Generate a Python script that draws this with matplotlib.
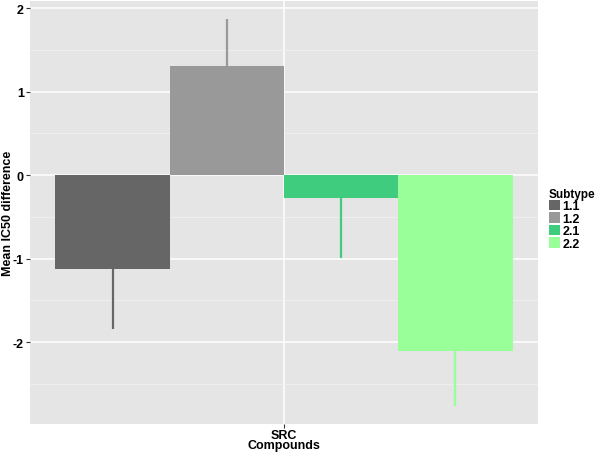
import numpy as np
import matplotlib
matplotlib.use("Agg")
import matplotlib.pyplot as plt
from matplotlib.patches import Patch

plt.rcParams['font.family'] = ['Liberation Sans', 'DejaVu Sans']
plt.rcParams['font.weight'] = 'bold'

# data
subtypes = ["1.1", "1.2", "2.1", "2.2"]
means = [-1.125, 1.30, -0.28, -2.11]
errors = [0.715, 0.57, 0.71, 0.65]
colors = ["#666666", "#999999", "#40CC7F", "#99FF99"]
compound = "SRC"

fig = plt.figure(figsize=(6, 4.56), dpi=100)
ax = fig.add_axes([30 / 600, 31 / 456, 508 / 600, 423 / 456])
ax.set_facecolor("#E5E5E5")

width = 0.9 / len(subtypes)
xs = 1 - 0.45 + width / 2 + width * np.arange(len(subtypes))

# error bars only shown on the side away from zero
for x, m, e, c in zip(xs, means, errors, colors):
    ax.vlines(x, m, m + np.sign(m) * e, color=c, lw=1.6, zorder=2)
ax.bar(xs, means, width=width, color=colors, zorder=3)

ax.set_xlim(0.5, 1.5)
ax.set_ylim(-2.98, 2.084)
ax.set_yticks([-2, -1, 0, 1, 2])
ax.set_yticklabels(["-2", "-1", "0", "1", "2"])
ax.set_yticks(np.arange(-2.5, 2.1, 1.0), minor=True)
ax.set_xticks([1])
ax.set_xticklabels([compound])

ax.grid(which="major", color="white", lw=1.1, zorder=1)
ax.grid(which="minor", axis="y", color="#F0F0F0", lw=0.6, zorder=1)
ax.set_axisbelow(True)
for s in ax.spines.values():
    s.set_visible(False)
ax.tick_params(axis="both", which="major", length=3, width=0.8, color="#333333",
               labelsize=9, pad=1.5)
ax.tick_params(axis="x", which="major", pad=0.5)
ax.tick_params(axis="y", which="minor", length=0)
for lab in ax.get_xticklabels() + ax.get_yticklabels():
    lab.set_fontweight("bold")

ax.set_xlabel("Compounds", fontsize=9, fontweight="bold", labelpad=-1)
ax.set_ylabel("Mean IC50 difference", fontsize=9, fontweight="bold", va="center")
ax.yaxis.set_label_coords(-22 / 508, 0.5)

handles = [Patch(facecolor=c, edgecolor="none") for c in colors]
leg = fig.legend(handles, subtypes, title="Subtype", loc="upper left",
                 bbox_to_anchor=(540 / 600, 1 - 180 / 456), frameon=False,
                 handlelength=0.9, handleheight=0.9, handletextpad=0.2,
                 labelspacing=0.0, borderpad=0.2, fontsize=9,
                 title_fontproperties={"weight": "bold", "size": 8.5})
for t in leg.get_texts():
    t.set_fontweight("bold")
leg._legend_box.align = "left"

fig.savefig("out.png", dpi=100)
